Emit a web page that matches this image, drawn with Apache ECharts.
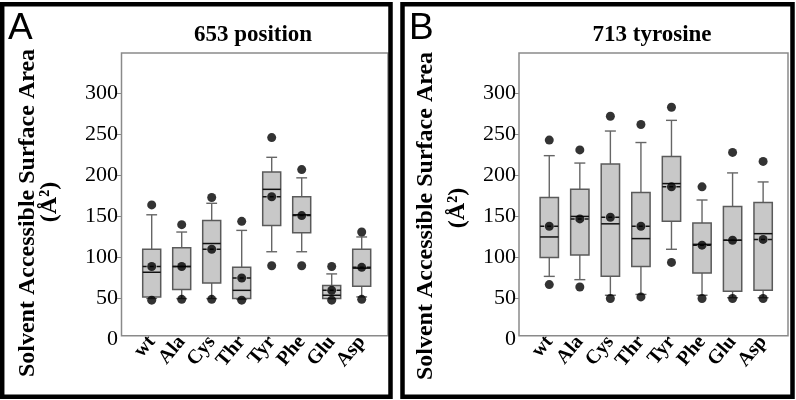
<!DOCTYPE html>
<html>
<head>
<meta charset="utf-8">
<title>Solvent accessible surface area</title>
<script src="https://cdn.jsdelivr.net/npm/echarts@6/dist/echarts.min.js"></script>
<style>
  html, body { margin: 0; padding: 0; background: #fff; }
  #main { width: 796px; height: 400px; }
</style>
</head>
<body>
<div id="main"></div>
<script>
// residues on the x axis of both panels
var categories = ['wt', 'Ala', 'Cys', 'Thr', 'Tyr', 'Phe', 'Glu', 'Asp']
var yTicks = [50, 100, 150, 200, 250, 300]
var yLabels = [0, 50, 100, 150, 200, 250, 300]

// A: 653 position
var lowA = [50, 50, 50, 49, 107, 107, 50, 52]
var q1A = [52, 61, 69, 50, 139, 130, 50, 65]
var medianA = [82, 89, 117, 60, 183, 152, 54, 87]
var q3A = [110, 112, 145, 88, 204, 174, 66, 110]
var highA = [152, 131, 166, 133, 222, 197, 80, 125]
var meanA = [89, 89, 110, 75, 174, 151, 60, 88]
var dotHighA = [164, 140, 173, 144, 246, 207, 89, 131]
var dotLowA = [48, 49, 49, 48, 90, 90, 48, 49]

// B: 713 tyrosine
var lowB = [77, 73, 54, 55, 110, 54, 51, 51]
var q1B = [100, 103, 77, 89, 144, 81, 59, 60]
var medianB = [125, 150, 141, 123, 190, 116, 121, 129]
var q3B = [173, 183, 214, 179, 223, 142, 162, 167]
var highB = [224, 215, 254, 240, 267, 170, 203, 192]
var meanB = [138, 147, 149, 138, 186, 115, 121, 122]
var dotHighB = [243, 231, 272, 262, 283, 186, 228, 217]
var dotLowB = [67, 64, 50, 52, 94, 50, 50, 50]

var serif = 'Liberation Serif'
var grey = '#666'

function boxItems (low, q1, med, q3, high, mean) {
  return categories.map(function (c, i) {
    return [i, low[i], q1[i], med[i], q3[i], high[i], mean[i]]
  })
}
function dotItems (vals) {
  return vals.map(function (v, i) { return [i, v] })
}

// box, whiskers with short caps, solid median and dashed mean
function renderBox (params, api) {
  var x = api.value(0)
  var band = api.size([1, 0])[0]
  var half = band * 0.3
  var cap = band * 0.18
  var p = function (d) { return api.coord([x, api.value(d)]) }
  var low = p(1), q1 = p(2), med = p(3), q3 = p(4), high = p(5), mean = p(6)
  var cx = low[0]
  var ln = function (x1, y1, x2, y2, style) {
    return { type: 'line', shape: { x1: x1, y1: y1, x2: x2, y2: y2 }, style: style }
  }
  var whisk = { stroke: grey, lineWidth: 1.4 }
  return {
    type: 'group',
    children: [
      ln(cx, q3[1], cx, high[1], whisk),
      ln(cx, q1[1], cx, low[1], whisk),
      ln(cx - cap, high[1], cx + cap, high[1], whisk),
      ln(cx - cap, low[1], cx + cap, low[1], whisk),
      {
        type: 'rect',
        shape: { x: cx - half, y: q3[1], width: half * 2, height: q1[1] - q3[1] },
        style: { fill: '#c8c8c8', stroke: '#5a5a5a', lineWidth: 1.5 }
      },
      ln(cx - half, med[1], cx + half, med[1], { stroke: '#111', lineWidth: 1.5 }),
      ln(cx - half, mean[1], cx + half, mean[1], { stroke: '#111', lineWidth: 1.5, lineDash: [4, 3] })
    ]
  }
}

function xAxisFor (gi) {
  return {
    type: 'category',
    gridIndex: gi,
    data: categories,
    offset: -4,
    axisLine: { show: false },
    axisTick: { alignWithLabel: true, length: 4, lineStyle: { color: '#888' } },
    axisLabel: { interval: 0, rotate: 50, margin: 3, color: '#000', fontFamily: serif, fontWeight: 'bold', fontSize: 20 },
    splitLine: { show: false }
  }
}
function yAxisFor (gi, off) {
  return {
    type: 'value',
    gridIndex: gi,
    min: 0,
    max: 350,
    interval: 50,
    offset: off,
    axisLine: { show: false },
    axisTick: { show: true, length: 4, customValues: yTicks, lineStyle: { color: '#888' } },
    axisLabel: { customValues: yLabels, margin: 3, color: '#000', fontFamily: serif, fontSize: 22 },
    splitLine: { show: false }
  }
}
function panelSeries (idx, low, q1, med, q3, high, mean, dHigh, dLow) {
  return [
    { type: 'custom', xAxisIndex: idx, yAxisIndex: idx, renderItem: renderBox,
      encode: { x: 0, y: [1, 2, 3, 4, 5, 6] }, data: boxItems(low, q1, med, q3, high, mean), z: 2 },
    { type: 'scatter', xAxisIndex: idx, yAxisIndex: idx, symbolSize: 9,
      itemStyle: { color: '#000' }, data: dotItems(mean), z: 3 },
    { type: 'scatter', xAxisIndex: idx, yAxisIndex: idx, symbolSize: 9,
      itemStyle: { color: '#000' }, data: dotItems(dHigh).concat(dotItems(dLow)), z: 3 }
  ]
}

var yTitle = function (x, y, text) {
  return { type: 'text', x: x, y: y, rotation: Math.PI / 2, z: 5,
    style: { text: text, fill: '#000', font: 'bold 24px "Liberation Serif"', textAlign: 'center', textVerticalAlign: 'middle' } }
}
var frame = function (x, y, w, h) {
  return { type: 'rect', z: 1, shape: { x: x, y: y, width: w, height: h },
    style: { fill: 'none', stroke: '#8a8a8a', lineWidth: 1.5 } }
}
var border = function (x, y, w, h) {
  return { type: 'rect', z: 10, shape: { x: x, y: y, width: w, height: h },
    style: { fill: 'none', stroke: '#000', lineWidth: 4.5 } }
}
var letter = function (x, text) {
  return { type: 'text', x: x, y: 29, z: 5,
    style: { text: text, fill: '#000', font: '37px "Liberation Sans"', textVerticalAlign: 'middle' } }
}

var chart = echarts.init(document.getElementById('main'))
chart.setOption({
  animation: false,
  backgroundColor: '#fff',
  title: [
    { text: '653 position', left: 253, top: 24, textAlign: 'center', padding: 0,
      textStyle: { fontFamily: serif, fontWeight: 'bold', fontSize: 23, color: '#000' } },
    { text: '713 tyrosine', left: 652, top: 24, textAlign: 'center', padding: 0,
      textStyle: { fontFamily: serif, fontWeight: 'bold', fontSize: 23, color: '#000' } }
  ],
  grid: [
    { left: 136.7, top: 52.2, width: 240, height: 287.4 },
    { left: 534, top: 52.2, width: 244.4, height: 287.4 }
  ],
  xAxis: [xAxisFor(0), xAxisFor(1)],
  yAxis: [yAxisFor(0, 15.7), yAxisFor(1, 15)],
  series: panelSeries(0, lowA, q1A, medianA, q3A, highA, meanA, dotHighA, dotLowA)
    .concat(panelSeries(1, lowB, q1B, medianB, q3B, highB, meanB, dotHighB, dotLowB)),
  graphic: [
    frame(121.5, 53, 266.5, 282.7),
    frame(519, 53, 269, 282.7),
    border(2.2, 4.2, 388.3, 392.6),
    border(402.5, 4.2, 390, 392.6),
    letter(8, 'A'),
    letter(409, 'B'),
    yTitle(28, 213, 'Solvent Accessible Surface Area'),
    yTitle(50, 202, '(Å²)'),
    yTitle(426, 216, 'Solvent Accessible Surface Area'),
    yTitle(458, 208, '(Å²)')
  ]
})
</script>
</body>
</html>
